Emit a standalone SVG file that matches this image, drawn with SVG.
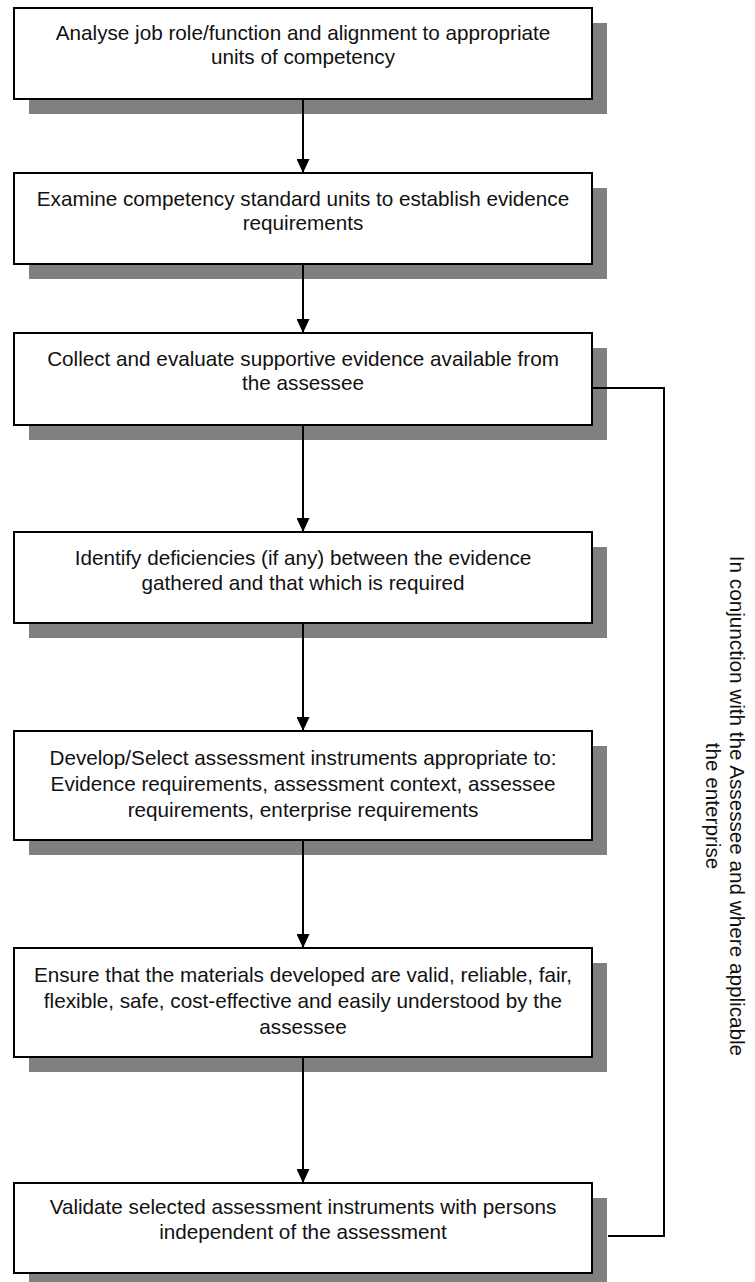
<svg xmlns="http://www.w3.org/2000/svg" width="755" height="1282" viewBox="0 0 755 1282">
  <defs>
    <style>
      .shadow { fill: #808080; }
      .box { fill: #ffffff; stroke: #000000; stroke-width: 2; }
      .lbl { font-family: "Liberation Sans", Arial, sans-serif; font-size: 20.7px; fill: #111111; text-anchor: middle; }
      .conn { fill: none; stroke: #000000; stroke-width: 2; }
    </style>
    <marker id="arrow" viewBox="0 0 14 13" refX="14" refY="6.5" markerWidth="14" markerHeight="13" markerUnits="userSpaceOnUse" orient="auto">
      <path d="M0,0 L14,6.5 L0,13 Z" fill="#000000"/>
    </marker>
  </defs>
  <rect width="755" height="1282" fill="#ffffff"/>

  <g id="node1">
    <rect class="shadow" x="29" y="23" width="578" height="91"/>
    <rect class="box" x="14" y="8" width="578" height="91"/>
    <text class="lbl" x="303" y="40">Analyse job role/function and alignment to appropriate</text>
    <text class="lbl" x="303" y="64">units of competency</text>
  </g>

  <g id="node2">
    <rect class="shadow" x="29" y="188" width="578" height="91"/>
    <rect class="box" x="14" y="173" width="578" height="91"/>
    <text class="lbl" x="303" y="206">Examine competency standard units to establish evidence</text>
    <text class="lbl" x="303" y="230">requirements</text>
  </g>

  <g id="node3">
    <rect class="shadow" x="29" y="348" width="578" height="92"/>
    <rect class="box" x="14" y="333" width="578" height="92"/>
    <text class="lbl" x="303" y="366">Collect and evaluate supportive evidence available from</text>
    <text class="lbl" x="303" y="390">the assessee</text>
  </g>

  <g id="node4">
    <rect class="shadow" x="29" y="547" width="578" height="91"/>
    <rect class="box" x="14" y="532" width="578" height="91"/>
    <text class="lbl" x="303" y="565">Identify deficiencies (if any) between the evidence</text>
    <text class="lbl" x="303" y="590">gathered and that which is required</text>
  </g>

  <g id="node5">
    <rect class="shadow" x="29" y="746" width="578" height="109"/>
    <rect class="box" x="14" y="731" width="578" height="109"/>
    <text class="lbl" x="303" y="765">Develop/Select assessment instruments appropriate to:</text>
    <text class="lbl" x="303" y="791">Evidence requirements, assessment context, assessee</text>
    <text class="lbl" x="303" y="817">requirements, enterprise requirements</text>
  </g>

  <g id="node6">
    <rect class="shadow" x="29" y="963" width="578" height="109"/>
    <rect class="box" x="14" y="948" width="578" height="109"/>
    <text class="lbl" x="303" y="982">Ensure that the materials developed are valid, reliable, fair,</text>
    <text class="lbl" x="303" y="1008">flexible, safe, cost-effective and easily understood by the</text>
    <text class="lbl" x="303" y="1034">assessee</text>
  </g>

  <g id="node7">
    <rect class="shadow" x="29" y="1198" width="578" height="90"/>
    <rect class="box" x="14" y="1183" width="578" height="90"/>
    <text class="lbl" x="303" y="1214">Validate selected assessment instruments with persons</text>
    <text class="lbl" x="303" y="1239">independent of the assessment</text>
  </g>

  <g id="connectors">
    <line class="conn" x1="303" y1="100" x2="303" y2="173" marker-end="url(#arrow)"/>
    <line class="conn" x1="303" y1="265" x2="303" y2="333" marker-end="url(#arrow)"/>
    <line class="conn" x1="303" y1="426" x2="303" y2="532" marker-end="url(#arrow)"/>
    <line class="conn" x1="303" y1="624" x2="303" y2="731" marker-end="url(#arrow)"/>
    <line class="conn" x1="303" y1="841" x2="303" y2="948" marker-end="url(#arrow)"/>
    <line class="conn" x1="303" y1="1058" x2="303" y2="1183" marker-end="url(#arrow)"/>
    <polyline class="conn" points="593,388 664,388 664,1236 608,1236"/>
  </g>

  <g id="side-label">
    <text class="lbl" transform="translate(730,806) rotate(90)" x="0" y="0">In conjunction with the Assessee and where applicable</text>
    <text class="lbl" transform="translate(706,806) rotate(90)" x="0" y="0">the enterprise</text>
  </g>
</svg>
